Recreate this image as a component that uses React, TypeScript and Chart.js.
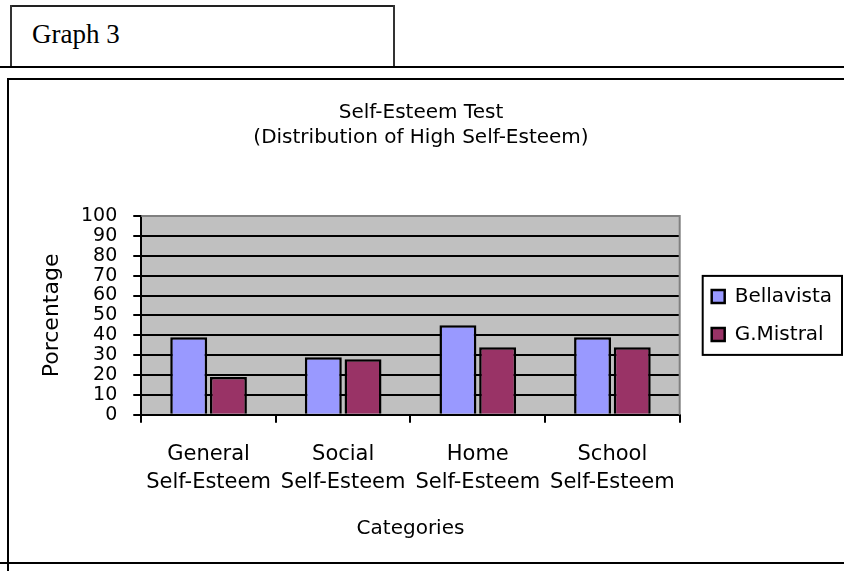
import React, { useEffect, useRef } from "react";
import { Chart, registerables } from "chart.js";

Chart.register(...registerables);

// ---- data ----
const categories: string[][] = [
  ["General", "Self-Esteem"],
  ["Social", "Self-Esteem"],
  ["Home", "Self-Esteem"],
  ["School", "Self-Esteem"],
];
const seriesNames = ["Bellavista", "G.Mistral"];
const bellavista = [39, 29, 45, 39];
const gMistral = [19, 28, 34, 34];
const yMin = 0;
const yMax = 100;
const yStep = 10;
const titleLines = ["Self-Esteem Test", "(Distribution of High Self-Esteem)"];
const xTitle = "Categories";
const yTitle = "Porcentage";
const headerText = "Graph 3";

const FONT = "'DejaVu Sans', sans-serif";

const plotFrame = {
  id: "plotFrame",
  beforeDraw(chart: any) {
    const { ctx, chartArea: a } = chart;
    ctx.save();
    ctx.fillStyle = "#C0C0C0";
    ctx.fillRect(a.left, a.top, a.right - a.left, a.bottom - a.top);
    ctx.restore();
  },
  beforeDatasetsDraw(chart: any) {
    const { ctx, chartArea: a } = chart;
    ctx.save();
    ctx.strokeStyle = "#808080";
    ctx.lineWidth = 2;
    ctx.beginPath();
    ctx.moveTo(a.left, a.top);
    ctx.lineTo(a.right, a.top);
    ctx.lineTo(a.right, a.bottom);
    ctx.stroke();
    ctx.restore();
  },
  afterLayout(chart: any) {
    const lg = chart.legend;
    if (lg) {
      lg.left += 14;
      lg.right += 14;
    }
  },
  afterDraw(chart: any) {
    const lg = chart.legend;
    if (!lg || !lg.legendHitBoxes || !lg.legendHitBoxes.length) return;
    const hb = lg.legendHitBoxes;
    const first = hb[0];
    const last = hb[hb.length - 1];
    const { ctx } = chart;
    const l = first.left - 9;
    const t = first.top - 10.5;
    const r = chart.width - 2;
    const b = last.top + last.height + 10.5;
    ctx.save();
    ctx.strokeStyle = "#000";
    ctx.lineWidth = 2;
    ctx.strokeRect(l, t, r - l, b - t);
    ctx.restore();
  },
};

function ChartCanvas() {
  const ref = useRef<HTMLCanvasElement | null>(null);
  useEffect(() => {
    if (!ref.current) return;
    const chart = new Chart(ref.current, {
      type: "bar",
      data: {
        labels: categories,
        datasets: [
          {
            label: seriesNames[0],
            data: bellavista,
            backgroundColor: "#9999FF",
            borderColor: "#000",
            borderWidth: 2.5,
            categoryPercentage: 0.59,
            barPercentage: 0.93,
          },
          {
            label: seriesNames[1],
            data: gMistral,
            backgroundColor: "#993366",
            borderColor: "#000",
            borderWidth: 2.5,
            categoryPercentage: 0.59,
            barPercentage: 0.93,
          },
        ],
      },
      options: {
        responsive: false,
        animation: false,
        devicePixelRatio: 1,
        color: "#000",
        layout: { padding: { top: 80, left: 14, right: 16, bottom: 30 } },
        plugins: {
          title: {
            display: true,
            text: titleLines,
            color: "#000",
            font: { family: FONT, size: 20, weight: "normal", lineHeight: 1.25 },
            padding: { top: 20, bottom: 66 },
          },
          legend: {
            display: true,
            position: "right",
            fullSize: false,
            labels: {
              color: "#000",
              font: { family: FONT, size: 20 },
              boxWidth: 13,
              boxHeight: 13,
              padding: 18,
            },
          },
          tooltip: { enabled: false },
        },
        scales: {
          x: {
            offset: true,
            grid: {
              display: true,
              drawOnChartArea: false,
              drawTicks: true,
              tickLength: 8,
              color: "#000",
              lineWidth: 2,
              offset: true,
            },
            border: { display: true, color: "#000", width: 2 },
            ticks: {
              color: "#000",
              font: { family: FONT, size: 21, lineHeight: 1.3 },
              padding: 18.3,
              maxRotation: 0,
              autoSkip: false,
            },
            title: {
              display: true,
              text: xTitle,
              color: "#000",
              font: { family: FONT, size: 20, lineHeight: 1.2 },
              padding: { top: 3, bottom: 0 },
            },
          },
          y: {
            min: yMin,
            max: yMax,
            grid: {
              display: true,
              drawTicks: true,
              tickLength: 8,
              lineWidth: 2,
              color: (c: any) => (c.tick && c.tick.value === yMax ? "#808080" : "#000"),
              tickColor: "#000",
            },
            border: { display: true, color: "#000", width: 2 },
            ticks: {
              stepSize: yStep,
              autoSkip: false,
              color: "#000",
              font: { family: FONT, size: 19, lineHeight: 1 },
              padding: 16,
            },
            title: {
              display: true,
              text: yTitle,
              color: "#000",
              font: { family: FONT, size: 22, lineHeight: 1.2 },
              padding: { top: 24.6, bottom: 0 },
            },
          },
        },
      },
      plugins: [plotFrame],
    } as any);
    return () => chart.destroy();
  }, []);
  return (
    <canvas
      ref={ref}
      width={844}
      height={571}
      style={{ position: "absolute", left: 0, top: 0, width: 844, height: 571, display: "block" }}
    />
  );
}

const line = (left: number, top: number, width: number, height: number, color = "#000") => (
  <div style={{ position: "absolute", left, top, width, height, background: color }} />
);

export default function App() {
  return (
    <div style={{ position: "absolute", left: 0, top: 0, width: 844, height: 571, overflow: "hidden", background: "#fff" }}>
      {/* Graph 3 header box */}
      {line(10, 5, 385, 2, "#222")}
      {line(10, 5, 2, 63, "#333")}
      {line(393, 5, 2, 63, "#333")}
      <div
        style={{
          position: "absolute",
          left: 32,
          top: 21,
          fontFamily: "'Liberation Serif', 'Times New Roman', serif",
          fontSize: 27,
          lineHeight: "27px",
          color: "#000",
          whiteSpace: "nowrap",
        }}
      >
        {headerText}
      </div>
      {line(0, 66, 844, 2)}
      {/* chart frame */}
      {line(7, 78, 837, 2)}
      {line(7, 78, 2, 493)}
      {line(0, 562, 844, 2)}
      <ChartCanvas />
    </div>
  );
}
